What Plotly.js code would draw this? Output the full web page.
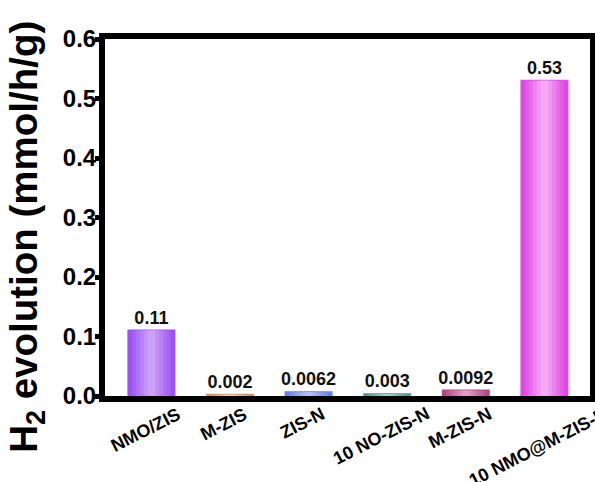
<!DOCTYPE html>
<html>
<head>
<meta charset="utf-8">
<script src="https://cdn.plot.ly/plotly-3.0.1.min.js"></script>
<style>html,body{margin:0;padding:0;background:#fff;}#chart{width:595px;height:482px;}</style>
</head>
<body>
<div id="chart"></div>
<script>
const categories = ["NMO/ZIS", "M-ZIS", "ZIS-N", "10 NO-ZIS-N", "M-ZIS-N", "10 NMO@M-ZIS-N"];
const values = [0.11, 0.002, 0.0062, 0.003, 0.0092, 0.53];
const valueLabels = ["0.11", "0.002", "0.0062", "0.003", "0.0092", "0.53"];
const darkColors = ["#9f52f4", "#d2926b", "#6a7fee", "#4a9896", "#b6488a", "#df48e2"];
const lightColors = ["#cba0f9", "#eed0bc", "#b4bff7", "#9dd0ce", "#e09cc2", "#f5aaf5"];

const fontFam = "Arial, 'Liberation Sans', sans-serif";
const baseWidth = 0.585;
const steps = 6;

function hexToRgb(h) {
  return [parseInt(h.slice(1, 3), 16), parseInt(h.slice(3, 5), 16), parseInt(h.slice(5, 7), 16)];
}
function mix(a, b, t) {
  const A = hexToRgb(a), B = hexToRgb(b);
  return "rgb(" + A.map((v, i) => Math.round(v + (B[i] - v) * t)).join(",") + ")";
}

const traces = [];
for (let s = 0; s < steps; s++) {
  const t = s / (steps - 1);
  const tr = {
    type: "bar", x: categories, y: values,
    width: baseWidth * (1 - s / steps),
    marker: {color: darkColors.map((d, i) => mix(d, lightColors[i], t)), line: {width: 0}},
    hoverinfo: "skip"
  };
  if (s === 0) {
    tr.marker.line = {width: 2, color: darkColors};
    tr.text = valueLabels;
    tr.textposition = "outside";
    tr.constraintext = "none";
    tr.cliponaxis = false;
    tr.textfont = {family: fontFam, size: 18, color: "#111", weight: "bold"};
  }
  traces.push(tr);
}
// invisible trace that carries the tick-label axis
traces.push({type: "scatter", mode: "none", x: categories, y: values, yaxis: "y2", hoverinfo: "skip", showlegend: false});

const catAnnotations = categories.map(c => ({
  text: c, textangle: -27, xref: "x", yref: "paper", x: c, y: 0,
  xanchor: "center", yanchor: "top", xshift: -6, yshift: -5, showarrow: false,
  font: {family: fontFam, size: 18, color: "#000", weight: "bold"}
}));

const layout = {
  width: 595, height: 482,
  margin: {l: 104.5, r: 4.5, t: 39, b: 86},
  paper_bgcolor: "#fff", plot_bgcolor: "#fff",
  barmode: "overlay", showlegend: false,
  font: {family: fontFam, color: "#000"},
  xaxis: {
    type: "category", range: [-0.59, 5.58],
    showline: true, mirror: true, linewidth: 6, linecolor: "#000",
    layer: "below traces", showticklabels: false,
    ticks: "", showgrid: false, zeroline: false
  },
  yaxis: {
    range: [0, 0.6], dtick: 0.1,
    showline: true, mirror: true, linewidth: 6, linecolor: "#000",
    ticks: "outside", ticklen: 4, tickwidth: 5, tickcolor: "#000",
    showticklabels: false, showgrid: false, zeroline: false
  },
  yaxis2: {
    overlaying: "y", side: "left",
    range: [0, 0.6], dtick: 0.1, tickformat: ".1f",
    showline: false, ticks: "outside", ticklen: 3, tickcolor: "rgba(0,0,0,0)",
    showgrid: false, zeroline: false,
    tickfont: {family: fontFam, size: 24, color: "#000", weight: "bold"}
  },
  annotations: [{
    text: "H<sub>2</sub> evolution (mmol/h/g)", textangle: -90,
    xref: "paper", yref: "paper", x: -0.1636, y: 0.445,
    xanchor: "center", yanchor: "middle", showarrow: false,
    font: {family: fontFam, size: 38.5, color: "#000", weight: "bold"}
  }].concat(catAnnotations)
};
Plotly.newPlot("chart", traces, layout, {displayModeBar: false, staticPlot: true});
</script>
</body>
</html>
